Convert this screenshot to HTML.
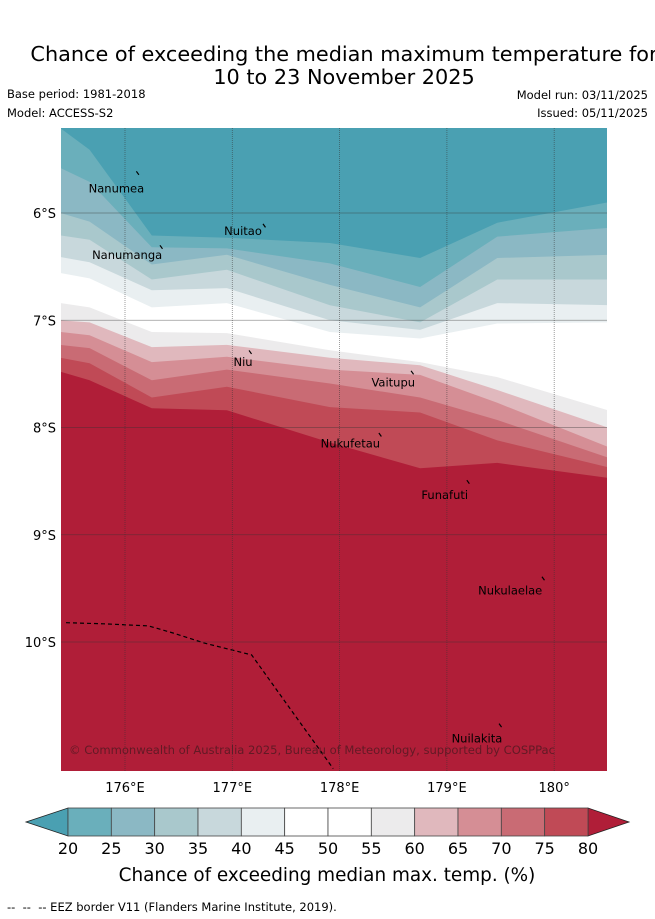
<!DOCTYPE html>
<html><head><meta charset="utf-8">
<style>
html,body{margin:0;padding:0;background:#fff;}
body{width:655px;height:919px;overflow:hidden;position:relative;font-family:"DejaVu Sans","Liberation Sans",sans-serif;}
svg{position:absolute;left:0;top:0;}
</style></head>
<body>
<svg id="chart" width="655" height="919" viewBox="0 0 655 919" xmlns="http://www.w3.org/2000/svg" font-family="DejaVu Sans, Liberation Sans, sans-serif">
  <text x="344" y="61" font-size="20.8" text-anchor="middle" fill="#000">Chance of exceeding the median maximum temperature for</text>
  <text x="344" y="84" font-size="20.8" text-anchor="middle" fill="#000">10 to 23 November 2025</text>
  <text x="7" y="98" font-size="11.5">Base period: 1981-2018</text>
  <text x="7" y="117" font-size="11.5">Model: ACCESS-S2</text>
  <text x="648" y="99" font-size="11.5" text-anchor="end">Model run: 03/11/2025</text>
  <text x="648" y="117" font-size="11.5" text-anchor="end">Issued: 05/11/2025</text>
  <defs><clipPath id="mapclip"><rect x="61" y="128" width="546" height="643"/></clipPath></defs>
  <g id="map" clip-path="url(#mapclip)"></g>
  <g id="grid"></g>
  <g id="xticks"></g>
  <g id="yticks"></g>
  <g id="cbar"></g>
  <text x="327" y="881" font-size="18.4" text-anchor="middle">Chance of exceeding median max. temp. (%)</text>
  <text x="7" y="911" font-size="11.5">-- &#160;-- &#160;-- EEZ border V11 (Flanders Marine Institute, 2019).</text>
</svg>
<script>
// ---- data ----
const lonCols = [175.40, 175.67, 176.25, 176.95, 177.91, 178.75, 179.47, 180.50];
// contour boundary latitudes (deg S) per column, from top (20%) to bottom (80%)
const b20 = [5.21, 5.41, 6.21, 6.23, 6.28, 6.42, 6.09, 5.90];
const b25 = [5.58, 5.71, 6.32, 6.33, 6.47, 6.69, 6.22, 6.14];
const b30 = [6.00, 6.08, 6.48, 6.39, 6.67, 6.88, 6.42, 6.39];
const b35 = [6.21, 6.25, 6.62, 6.53, 6.86, 7.02, 6.62, 6.62];
const b40 = [6.41, 6.46, 6.72, 6.70, 7.00, 7.09, 6.84, 6.86];
const b45 = [6.56, 6.61, 6.88, 6.84, 7.11, 7.17, 7.03, 7.02];
const b50 = [6.69, 6.74, 7.00, 6.98, 7.18, 7.28, 7.31, 7.40];
const b55 = [6.84, 6.88, 7.11, 7.12, 7.28, 7.39, 7.53, 7.84];
const b60 = [7.00, 7.02, 7.25, 7.23, 7.35, 7.42, 7.65, 8.00];
const b65 = [7.11, 7.14, 7.39, 7.34, 7.46, 7.51, 7.77, 8.18];
const b70 = [7.23, 7.26, 7.56, 7.46, 7.59, 7.72, 7.93, 8.28];
const b75 = [7.35, 7.40, 7.72, 7.62, 7.81, 7.86, 8.12, 8.37];
const b80 = [7.48, 7.56, 7.82, 7.84, 8.14, 8.38, 8.33, 8.47];
const cbLevels = [20, 25, 30, 35, 40, 45, 50, 55, 60, 65, 70, 75, 80];
const xTickLons = [176, 177, 178, 179, 180];
const yTickLats = [6, 7, 8, 9, 10];
const eezLon = [175.45, 175.80, 176.22, 176.46, 176.74, 177.18, 177.53, 177.94];
const eezLat = [9.82, 9.83, 9.85, 9.92, 10.01, 10.12, 10.61, 11.18];
const islandNames = ["Nanumea","Nuitao","Nanumanga","Niu","Vaitupu","Nukufetau","Funafuti","Nukulaelae","Nuilakita"];
const islandLon = [176.12, 177.30, 176.34, 177.17, 178.68, 178.38, 179.20, 179.90, 179.50];
const islandLat = [5.63, 6.12, 6.32, 7.30, 7.49, 8.07, 8.51, 9.41, 10.78];
const labelLon = [175.92, 177.10, 176.02, 177.10, 178.50, 178.10, 178.98, 179.59, 179.28];
const labelLat = [5.77, 6.17, 6.39, 7.39, 7.58, 8.15, 8.63, 9.52, 10.90];

const colors = ["#4aa0b2","#6aafbb","#8bb8c4","#a9c8cc","#c8d8dc","#e9eff1","#ffffff","#ffffff","#ecebec","#e0b8bd","#d58e95","#c96b74","#c04a56","#b01e38"];
const NS = "http://www.w3.org/2000/svg";
const X0 = 61, X1 = 607, Y0 = 128, Y1 = 771;
function xs(lon){ return 125 + (lon - 176) * 107.3; }
function ys(lat){ return 213 + (lat - 6) * 107.25; }
function mk(tag, attrs, parent){ const e = document.createElementNS(NS, tag); for (const k in attrs) e.setAttribute(k, attrs[k]); parent.appendChild(e); return e; }

const map = document.getElementById('map');
const bg = mk('rect', {x:X0, y:Y0, width:X1-X0, height:Y1-Y0, fill:colors[0]}, map);


const bounds = [b20,b25,b30,b35,b40,b45,b50,b55,b60,b65,b70,b75,b80];
bounds.forEach((b, i) => {
  let pts = [];
  lonCols.forEach((lon, j) => pts.push(xs(lon).toFixed(1) + ',' + ys(b[j]).toFixed(1)));
  pts.push((X1+5) + ',' + ys(b[b.length-1]).toFixed(1));
  pts.push((X1+5) + ',' + (Y1+5));
  pts.push((X0-5) + ',' + (Y1+5));
  pts.push((X0-5) + ',' + ys(b[0]).toFixed(1));
  const p = mk('polygon', {points: pts.join(' '), fill: colors[i+1]}, map);
  
  
});
// EEZ
const eez = mk('polyline', {points: eezLon.map((l,i)=>xs(l).toFixed(1)+','+ys(eezLat[i]).toFixed(1)).join(' '), fill:'none', stroke:'#000', 'stroke-width':1.2, 'stroke-dasharray':'4,3'}, map);


// islands
islandNames.forEach((n, i) => {
  const m = mk('line', {x1:xs(islandLon[i])-1.5, y1:ys(islandLat[i])-2, x2:xs(islandLon[i])+1, y2:ys(islandLat[i])+1.5, stroke:'#000', 'stroke-width':1.2}, map);
  
  
  const t = mk('text', {x:xs(labelLon[i]), y:ys(labelLat[i])+4, 'font-size':11.5, 'text-anchor':'middle', fill:'#000'}, map);
  t.textContent = n;
  
  
});
const cr = mk('text', {x:69, y:754, 'font-size':11.6, fill:'#5a1a24', opacity:0.9, textLength:486}, map);
cr.textContent = '© Commonwealth of Australia 2025, Bureau of Meteorology, supported by COSPPac';



// grid and ticks
const grid = document.getElementById('grid');
xTickLons.forEach(l => {
  const g = mk('line', {x1:xs(l), y1:Y0, x2:xs(l), y2:Y1, stroke:'#333', 'stroke-opacity':0.6, 'stroke-width':0.8, 'stroke-dasharray':'1,1'}, grid);
  
  
  const t = mk('text', {x:xs(l), y:792, 'font-size':13, 'text-anchor':'middle'}, document.getElementById('xticks'));
  t.textContent = l + '°' + (l === 180 ? '' : 'E');
  
  
});
yTickLats.forEach(l => {
  const g = mk('line', {x1:X0, y1:ys(l), x2:X1, y2:ys(l), stroke:'#333', 'stroke-opacity':0.5, 'stroke-width':0.8}, grid);
  
  
  const t = mk('text', {x:56, y:ys(l)+5, 'font-size':13, 'text-anchor':'end'}, document.getElementById('yticks'));
  t.textContent = l + '°S';
  
  
});

// colorbar
const cb = document.getElementById('cbar');
const CX0 = 68, CX1 = 588, CY0 = 808, CY1 = 836;
function cx(v){ return CX0 + (v - 20) / 60 * (CX1 - CX0); }
const tl = mk('polygon', {points:`${CX0},${CY0} ${CX0},${CY1} 26,${(CY0+CY1)/2}`, fill:colors[0], stroke:'#222', 'stroke-width':0.8}, cb);


const tr = mk('polygon', {points:`${CX1},${CY0} ${CX1},${CY1} 629,${(CY0+CY1)/2}`, fill:colors[13], stroke:'#222', 'stroke-width':0.8}, cb);


for (let i = 0; i < cbLevels.length - 1; i++) {
  const r = mk('rect', {x:cx(cbLevels[i]), y:CY0, width:cx(cbLevels[i+1])-cx(cbLevels[i]), height:CY1-CY0, fill:colors[i+1], stroke:'#444', 'stroke-width':0.8}, cb);
  
  
}
cbLevels.forEach(v => {
  const t = mk('text', {x:cx(v), y:854, 'font-size':16, 'text-anchor':'middle'}, cb);
  t.textContent = v;
  
  
});
</script>
</body></html>
